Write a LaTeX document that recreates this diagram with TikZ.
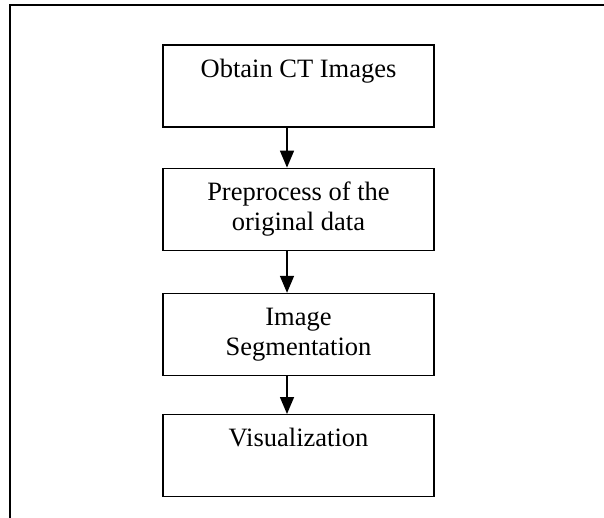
\documentclass[tikz,border=0pt]{standalone}
\usepackage{fontspec}
\setmainfont{Liberation Serif}
\usetikzlibrary{arrows.meta, positioning}
\tikzset{
  stepbox/.style={draw=black, line width=1.2pt, fill=white, rectangle,
    minimum width=271pt, minimum height=82pt, align=center, inner sep=0pt,
    font=\fontsize{26.5}{30}\selectfont},
  flow/.style={line width=1.5pt, -{Triangle[length=17pt,width=14pt]}},
  frame/.style={line width=2pt, line cap=rect}
}

\begin{document}
\begin{tikzpicture}[x=1pt,y=-1pt]
  \useasboundingbox[fill=white] (0,0) rectangle (604,517);
  % --- outer frame (only top and left edges in view) ---
  \draw[frame] (10,517) -- (10,5) -- (604,5);
  % --- steps ---
  \node[stepbox] (obtain) at (298.5,86) {Obtain CT Images\\\phantom{g}};
  \node[stepbox, below=40pt of obtain] (prep) {Preprocess of the\\original data};
  \node[stepbox, below=42pt of prep] (segm) {Image\\Segmentation};
  \node[stepbox, below=38pt of segm] (visual) {Visualization\\\phantom{g}};
  % --- arrows ---
  \coordinate (spine) at (287,0);
  \draw[flow] (obtain.south -| spine) -- (prep.north -| spine);
  \draw[flow] (prep.south -| spine) -- (segm.north -| spine);
  \draw[flow] (segm.south -| spine) -- (visual.north -| spine);
\end{tikzpicture}
\end{document}
